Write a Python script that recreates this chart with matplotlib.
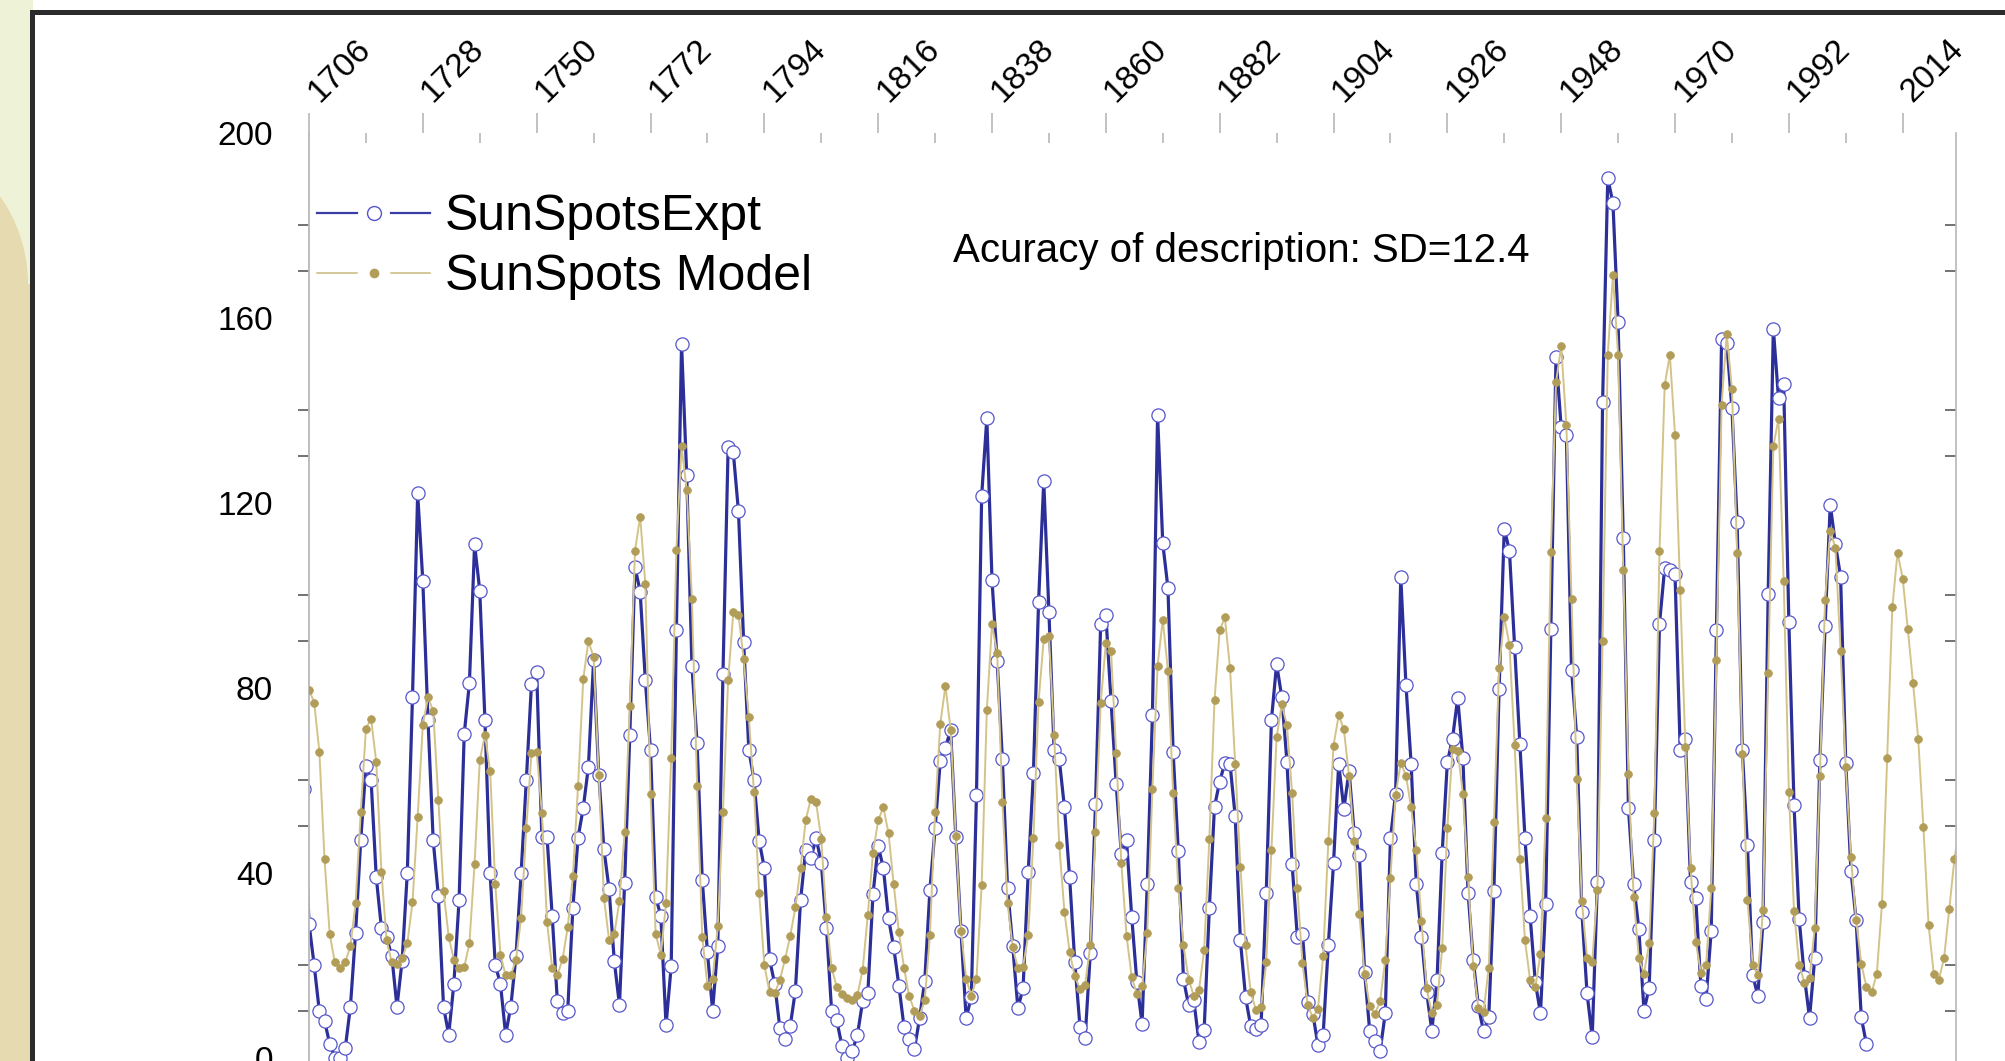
import numpy as np
import matplotlib
matplotlib.use('Agg')
import matplotlib.pyplot as plt
from matplotlib.patches import Rectangle, Ellipse
from matplotlib.lines import Line2D
from matplotlib.transforms import blended_transform_factory, ScaledTranslation

plt.rcParams['font.family'] = ['Liberation Sans', 'DejaVu Sans']

W, H = 2005, 1061

# observed yearly sunspot numbers, 1705..2007
expt_start = 1705
expt_vals = [
    58.0, 29.0, 20.0, 10.0, 8.0,
    3.0, 0.0, 0.0, 2.0, 11.0, 27.0, 47.0, 63.0, 60.0, 39.0,
    28.0, 26.0, 22.0, 11.0, 21.0, 40.0, 78.0, 122.0, 103.0, 73.0,
    47.0, 35.0, 11.0, 5.0, 16.0, 34.0, 70.0, 81.0, 111.0, 101.0,
    73.0, 40.0, 20.0, 16.0, 5.0, 11.0, 22.0, 40.0, 60.0, 80.9,
    83.4, 47.7, 47.8, 30.7, 12.2, 9.6, 10.2, 32.4, 47.6, 54.0,
    62.9, 85.9, 61.2, 45.1, 36.4, 20.9, 11.4, 37.8, 69.8, 106.1,
    100.8, 81.6, 66.5, 34.8, 30.6, 7.0, 19.8, 92.5, 154.4, 125.9,
    84.8, 68.1, 38.5, 22.8, 10.2, 24.1, 82.9, 132.0, 130.9, 118.1,
    89.9, 66.6, 60.0, 46.9, 41.0, 21.3, 16.0, 6.4, 4.1, 6.8,
    14.5, 34.0, 45.0, 43.1, 47.5, 42.2, 28.1, 10.1, 8.1, 2.5,
    0.0, 1.4, 5.0, 12.2, 13.9, 35.4, 45.8, 41.0, 30.1, 23.9,
    15.6, 6.6, 4.0, 1.8, 8.5, 16.6, 36.3, 49.6, 64.2, 67.0,
    70.9, 47.8, 27.5, 8.5, 13.2, 56.9, 121.5, 138.3, 103.2, 85.7,
    64.6, 36.7, 24.2, 10.7, 15.0, 40.1, 61.5, 98.5, 124.7, 96.3,
    66.6, 64.5, 54.1, 39.0, 20.6, 6.7, 4.3, 22.7, 54.8, 93.8,
    95.8, 77.2, 59.1, 44.0, 47.0, 30.5, 16.3, 7.3, 37.6, 74.0,
    139.0, 111.2, 101.6, 66.2, 44.7, 17.0, 11.3, 12.4, 3.4, 6.0,
    32.3, 54.3, 59.7, 63.7, 63.5, 52.2, 25.4, 13.1, 6.8, 6.3,
    7.1, 35.6, 73.0, 85.1, 78.0, 64.0, 41.8, 26.2, 26.7, 12.1,
    9.5, 2.7, 5.0, 24.4, 42.0, 63.5, 53.8, 62.0, 48.5, 43.9,
    18.6, 5.7, 3.6, 1.4, 9.6, 47.4, 57.1, 103.9, 80.6, 63.6,
    37.6, 26.1, 14.2, 5.8, 16.7, 44.3, 63.9, 69.0, 77.8, 64.9,
    35.7, 21.2, 11.1, 5.7, 8.7, 36.1, 79.7, 114.4, 109.6, 88.8,
    67.8, 47.5, 30.6, 16.3, 9.6, 33.2, 92.6, 151.6, 136.3, 134.7,
    83.9, 69.4, 31.5, 13.9, 4.4, 38.0, 141.7, 190.2, 184.8, 159.0,
    112.3, 53.9, 37.6, 27.9, 10.2, 15.1, 47.0, 93.8, 105.9, 105.5,
    104.5, 66.6, 68.9, 38.0, 34.5, 15.5, 12.6, 27.5, 92.5, 155.4,
    154.6, 140.4, 115.9, 66.6, 45.9, 17.9, 13.4, 29.4, 100.2, 157.6,
    142.6, 145.7, 94.3, 54.6, 29.9, 17.5, 8.6, 21.5, 64.3, 93.3,
    119.6, 111.0, 104.0, 63.7, 40.4, 29.8, 8.7, 2.9,
]

# model values, 1706..2025
model_start = 1706
model_vals = [
    79.6, 76.8, 66.2, 42.9,
    26.7, 20.6, 19.3, 20.6, 24.1, 33.4, 53.2, 71.1, 73.3, 63.9,
    40.1, 25.4, 20.6, 20.2, 21.5, 24.7, 33.6, 52.1, 72.0, 77.9,
    75.0, 55.8, 36.0, 26.1, 21.2, 19.5, 19.6, 24.7, 41.9, 64.3,
    69.8, 62.0, 37.5, 22.3, 17.8, 17.8, 21.2, 30.3, 49.7, 65.8,
    66.2, 53.0, 29.3, 19.3, 17.8, 21.3, 28.2, 39.3, 58.8, 81.8,
    90.1, 86.6, 61.2, 34.5, 25.4, 26.7, 33.9, 48.8, 76.1, 109.6,
    117.0, 102.5, 57.1, 26.7, 22.3, 33.4, 64.9, 109.8, 132.2, 122.8,
    99.2, 58.8, 26.1, 15.6, 17.0, 28.4, 53.2, 81.6, 96.3, 95.8,
    86.2, 73.6, 57.4, 35.6, 20.0, 14.2, 13.9, 16.8, 21.3, 26.3,
    32.5, 41.1, 51.4, 56.0, 55.2, 47.2, 30.4, 19.5, 15.2, 13.7,
    12.9, 12.4, 13.6, 19.0, 30.9, 44.3, 51.3, 54.2, 48.5, 37.5,
    27.2, 19.4, 13.3, 10.2, 9.1, 12.4, 26.5, 53.2, 72.2, 80.4,
    70.9, 48.0, 27.5, 17.1, 13.4, 17.1, 37.3, 75.2, 93.7, 87.5,
    55.3, 33.5, 23.9, 19.4, 19.7, 26.5, 47.4, 77.0, 90.6, 91.2,
    69.7, 45.9, 31.5, 22.8, 17.6, 14.8, 15.8, 24.4, 48.9, 76.6,
    89.6, 88.0, 65.8, 42.0, 26.3, 17.5, 13.7, 15.4, 26.9, 58.1,
    84.8, 94.7, 83.7, 57.2, 36.8, 24.3, 16.9, 13.4, 14.6, 23.2,
    47.3, 77.3, 92.4, 95.2, 84.2, 63.5, 41.3, 24.3, 14.1, 10.4,
    11.0, 20.6, 45.0, 69.3, 76.4, 71.9, 57.2, 36.8, 20.4, 11.5,
    8.6, 10.6, 21.9, 46.8, 67.5, 74.0, 71.0, 61.0, 46.8, 31.1,
    18.1, 11.2, 9.4, 12.2, 21.2, 38.9, 56.8, 63.8, 61.0, 54.1,
    45.0, 29.6, 15.0, 9.6, 11.5, 23.7, 49.7, 66.7, 66.4, 57.0,
    39.0, 19.9, 10.8, 9.9, 19.5, 51.0, 84.2, 95.2, 89.3, 67.7,
    42.9, 25.4, 16.7, 15.2, 22.5, 51.9, 109.3, 146.0, 153.9, 136.8,
    99.2, 60.3, 33.8, 21.6, 20.7, 36.3, 90.1, 152.0, 169.2, 151.9,
    105.4, 61.4, 34.8, 21.6, 18.2, 24.7, 53.0, 109.5, 145.4, 152.0,
    134.7, 101.1, 67.2, 41.1, 25.1, 18.3, 20.0, 36.7, 85.9, 141.2,
    156.5, 144.5, 109.2, 65.6, 34.2, 20.1, 17.8, 31.9, 83.2, 132.2,
    138.2, 103.0, 57.4, 31.7, 20.1, 16.2, 17.2, 28.1, 60.9, 98.9,
    113.9, 110.2, 87.9, 62.8, 43.3, 29.8, 20.3, 15.3, 14.1, 18.2,
    33.3, 64.7, 97.4, 109.2, 103.6, 92.6, 81.0, 69.0, 49.9, 28.8,
    18.2, 16.9, 21.6, 32.1, 43.0, 49.9,
]

year_ticks = [1706, 1728, 1750, 1772, 1794, 1816, 1838, 1860, 1882,
              1904, 1926, 1948, 1970, 1992, 2014]
year_minor = [1717, 1739, 1761, 1783, 1805, 1827, 1849, 1871, 1893,
              1915, 1937, 1959, 1981, 2003]
y_labels = [0, 40, 80, 120, 160, 200]
y_marks = [10, 20, 50, 60, 90, 100, 130, 140, 170, 180]

legend_names = ['SunSpotsExpt', 'SunSpots Model']
note = 'Acuracy of description: SD=12.4'

BLUE = '#2c2f98'
BLUE_EDGE = '#5656cc'
GOLD = '#b29d58'
GOLD_LINE = '#d3c389'
GRID_GRAY = '#b8b8b8'
TICK_DARK = '#5a5a5a'

expt_years = np.arange(expt_start, expt_start + len(expt_vals))
model_years = np.arange(model_start, model_start + len(model_vals))


def fx(px):
    return px / W


def fy(py):
    return 1 - py / H


fig = plt.figure(figsize=(W / 100, H / 100), dpi=100)
fig.patch.set_facecolor('white')

# slide decoration on the left, and the dark frame
fig.add_artist(Rectangle((0, fy(300)), fx(33), 300 / H, transform=fig.transFigure,
                         fc='#eef2d6', ec='none', zorder=0))
fig.add_artist(Rectangle((0, 0), fx(31), fy(284), transform=fig.transFigure,
                         fc='#e6dab0', ec='none', zorder=0.5))
fig.add_artist(Ellipse((fx(-124), fy(284)), 2 * 152 / W, 2 * 152 / H,
                       transform=fig.transFigure, fc='#e6dab0', ec='none', zorder=0.5))
fig.add_artist(Rectangle((fx(30), fy(15)), fx(1975), 5 / H, transform=fig.transFigure,
                         fc='#2b2b2b', ec='none', zorder=1))
fig.add_artist(Rectangle((fx(30), 0), fx(5), fy(10), transform=fig.transFigure,
                         fc='#2b2b2b', ec='none', zorder=1))

# axes: 1706 at x=309, right spine x=1956.5; 200 at y=132.7, 0 at y=1057.7
y_lo, y_hi = -5, 200
px_per_unit = (1057.7 - 132.7) / 200
bottom_px = 1057.7 - y_lo * px_per_unit
ax = fig.add_axes([fx(309), fy(bottom_px), fx(1956.5 - 309), (bottom_px - 132.7) / H])
ax.set_xlim(1706, 2024.4)
ax.set_ylim(y_lo, y_hi)

ax.plot(expt_years, expt_vals, color=BLUE, lw=2.3, marker='o', ms=9.5,
        mfc='white', mec=BLUE_EDGE, mew=0.9, zorder=2)
ax.plot(model_years, model_vals, color=GOLD_LINE, lw=1.4, marker='o', ms=5.6,
        mfc=GOLD, mec=GOLD, mew=0.5, zorder=3)

for side in ['top', 'bottom', 'right']:
    ax.spines[side].set_visible(False)
ax.spines['left'].set_color(GRID_GRAY)
ax.spines['left'].set_linewidth(1.3)

# y axis: labels without marks, marks in between
ax.set_yticks(y_labels)
ax.set_yticklabels([str(v) for v in y_labels])
ax.set_yticks(y_marks, minor=True)
ax.tick_params(axis='y', which='major', length=0, pad=26, labelsize=24)
ax.tick_params(axis='y', which='minor', direction='out', length=8, width=1.2,
               color=TICK_DARK)

ax_r = ax.twinx()
ax_r.set_ylim(y_lo, y_hi)
ax_r.set_yticks(y_marks)
ax_r.tick_params(axis='y', direction='in', length=8, width=1.2, color=TICK_DARK,
                 labelright=False)
for side in ['top', 'bottom', 'left']:
    ax_r.spines[side].set_visible(False)
ax_r.spines['right'].set_color(GRID_GRAY)
ax_r.spines['right'].set_linewidth(1.2)

# x axis on top
ax.xaxis.tick_top()
ax.set_xticks(year_ticks)
ax.set_xticklabels([])
ax.set_xticks(year_minor, minor=True)
ax.tick_params(axis='x', which='major', direction='out', length=14.4, width=1.2,
               color=GRID_GRAY)
ax.tick_params(axis='x', which='minor', direction='in', length=7.2, width=1.2,
               color=GRID_GRAY)
lab_tr = blended_transform_factory(ax.transData, ax.transAxes) + \
    ScaledTranslation(10 / 100, 30 / 100, fig.dpi_scale_trans)
for yr in year_ticks:
    ax.text(yr, 1, str(yr), transform=lab_tr, rotation=45, rotation_mode='anchor',
            ha='left', va='baseline', fontsize=24, clip_on=False)

# legend drawn by hand: line - marker - line, then name
rows = [(213.3, 230), (273.3, 290)]
styles = [
    dict(color='#3a3da8', lw=1.6, marker='o', ms=10, mfc='white', mec=BLUE_EDGE, mew=1.0),
    dict(color='#c9b97c', lw=1.1, marker='o', ms=6.5, mfc=GOLD, mec=GOLD, mew=0.5),
]
for (ly, base), st, name in zip(rows, styles, legend_names):
    for x0, x1 in [(317, 357), (391, 430)]:
        fig.add_artist(Line2D([fx(x0), fx(x1)], [fy(ly), fy(ly)], transform=fig.transFigure,
                              color=st['color'], lw=st['lw'], zorder=5))
    fig.add_artist(Line2D([fx(373.5)], [fy(ly)], transform=fig.transFigure, ls='none',
                          marker=st['marker'], ms=st['ms'], mfc=st['mfc'], mec=st['mec'],
                          mew=st['mew'], zorder=6))
    fig.text(fx(445), fy(base), name, fontsize=36, ha='left', va='baseline', zorder=6)

fig.text(fx(953), fy(262), note, fontsize=29, ha='left', va='baseline')

fig.savefig('out.png', dpi=100)
